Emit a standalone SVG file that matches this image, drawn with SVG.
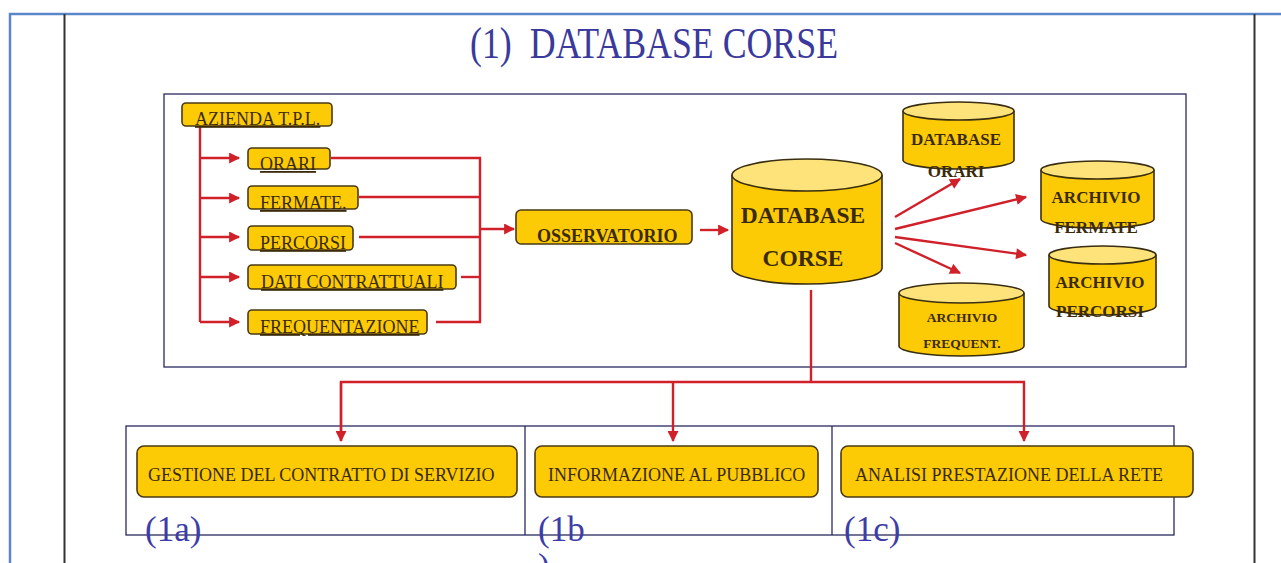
<svg xmlns="http://www.w3.org/2000/svg" width="1281" height="563" viewBox="0 0 1281 563">
<defs>
<marker id="ah" viewBox="0 0 10 10" refX="9" refY="5" markerWidth="12" markerHeight="11" markerUnits="userSpaceOnUse" orient="auto">
<path d="M0,0 L10,5 L0,10 z" fill="#d0202a"/>
</marker>
<style>
.box{fill:#fccb06;stroke:#4a3a14;stroke-width:1.6}
.cyl{fill:#fccb06;stroke:#3a2e10;stroke-width:1.6}
.top{fill:#fde37a;stroke:#3a2e10;stroke-width:1.6}
.t{font-family:"Liberation Serif",serif;fill:#3b2a0a}
.u{font-size:18px;text-decoration:underline}
.b{font-weight:bold}
.c{stroke:#d0202a;stroke-width:2.4;fill:none}
.frame{fill:none;stroke:#2a2a5e;stroke-width:1.3}
.lbl{font-family:"Liberation Serif",serif;font-size:35px;fill:#3d3da8}
.bt{font-size:18px}
</style>
</defs>
<rect width="1281" height="563" fill="#fff"/>
<g id="page">
<path d="M10,563 V14 H1281" fill="none" stroke="#5b87c8" stroke-width="2.5"/>
<line x1="64.5" y1="14" x2="64.5" y2="563" stroke="#333" stroke-width="2"/>
<line x1="1254.5" y1="14" x2="1254.5" y2="563" stroke="#333" stroke-width="2"/>
<text x="470" y="58" textLength="368" lengthAdjust="spacingAndGlyphs" font-family="Liberation Serif,serif" font-size="44" fill="#3a3a9c" xml:space="preserve">(1)  DATABASE CORSE</text>
<rect x="164" y="94" width="1022" height="273" class="frame"/>
<rect x="126" y="426" width="1048" height="109" class="frame"/>
<line x1="525" y1="426" x2="525" y2="535" class="frame"/>
<line x1="832" y1="426" x2="832" y2="535" class="frame"/>
</g>
<g id="connectors">
<path class="c" d="M200,126 V322"/>
<path class="c" d="M200,158 H239" marker-end="url(#ah)"/>
<path class="c" d="M200,198 H239" marker-end="url(#ah)"/>
<path class="c" d="M200,237 H239" marker-end="url(#ah)"/>
<path class="c" d="M200,277 H239" marker-end="url(#ah)"/>
<path class="c" d="M200,322 H239" marker-end="url(#ah)"/>
<path class="c" d="M331,158 H480 V322 H436"/>
<path class="c" d="M359,197 H480"/>
<path class="c" d="M359,237 H480"/>
<path class="c" d="M461,277 H480"/>
<path class="c" d="M480,229 H514" marker-end="url(#ah)"/>
<path class="c" d="M700,230 H728" marker-end="url(#ah)"/>
<path class="c" d="M895,217 L960,179" marker-end="url(#ah)"/>
<path class="c" d="M895,229 L1026,197" marker-end="url(#ah)"/>
<path class="c" d="M895,237 L1026,255" marker-end="url(#ah)"/>
<path class="c" d="M895,243 L960,273" marker-end="url(#ah)"/>
<path class="c" d="M811,290 V382"/>
<path class="c" d="M341,441 V382 H1024 V441" marker-end="url(#ah)"/>
<path class="c" d="M341,382 V441" marker-end="url(#ah)"/>
<path class="c" d="M673,382 V441" marker-end="url(#ah)"/>
</g>
<g id="azienda"><rect class="box" x="182" y="103" width="150" height="23" rx="4"/><text class="t u" x="195" y="125">AZIENDA T.P.L.</text></g>
<g id="orari"><rect class="box" x="248" y="148" width="82" height="21" rx="4"/><text class="t u" x="260" y="170">ORARI</text></g>
<g id="fermate"><rect class="box" x="248" y="186" width="110" height="23" rx="4"/><text class="t u" x="260" y="209">FERMATE.</text></g>
<g id="percorsi"><rect class="box" x="248" y="226" width="105" height="24" rx="4"/><text class="t u" x="260" y="249">PERCORSI</text></g>
<g id="dati"><rect class="box" x="248" y="265" width="208" height="24" rx="4"/><text class="t u" x="261" y="288">DATI CONTRATTUALI</text></g>
<g id="frequentazione"><rect class="box" x="248" y="310" width="179" height="24" rx="4"/><text class="t u" x="260" y="333">FREQUENTAZIONE</text></g>
<g id="osservatorio"><rect class="box" x="516" y="210" width="176" height="34" rx="5"/><text class="t b" x="537" y="242" font-size="18">OSSERVATORIO</text></g>
<g id="dbcorse">
<path class="cyl" d="M732,175 V268 A75,16 0 0 0 882,268 V175"/>
<ellipse class="top" cx="807" cy="175" rx="75" ry="16"/>
<text class="t b" x="803" y="223" font-size="23.5" text-anchor="middle">DATABASE</text>
<text class="t b" x="803" y="266" font-size="23.5" text-anchor="middle">CORSE</text>
</g>
<g id="dborari">
<path class="cyl" d="M903,111 V160 A55.5,9 0 0 0 1014,160 V111"/>
<ellipse class="top" cx="958.5" cy="111" rx="55.5" ry="9"/>
<text class="t b" x="956" y="145" font-size="17" text-anchor="middle">DATABASE</text>
<text class="t b" x="956" y="177" font-size="17" text-anchor="middle">ORARI</text>
</g>
<g id="archfermate">
<path class="cyl" d="M1041,170 V219 A56.5,9 0 0 0 1154,219 V170"/>
<ellipse class="top" cx="1097.5" cy="170" rx="56.5" ry="9"/>
<text class="t b" x="1096" y="203" font-size="17" text-anchor="middle">ARCHIVIO</text>
<text class="t b" x="1096" y="233" font-size="17" text-anchor="middle">FERMATE</text>
</g>
<g id="archpercorsi">
<path class="cyl" d="M1049,255 V306 A53.5,9 0 0 0 1156,306 V255"/>
<ellipse class="top" cx="1102.5" cy="255" rx="53.5" ry="9"/>
<text class="t b" x="1100" y="288" font-size="17" text-anchor="middle">ARCHIVIO</text>
<text class="t b" x="1100" y="317" font-size="17" text-anchor="middle">PERCORSI</text>
</g>
<g id="archfrequent">
<path class="cyl" d="M899,293 V346 A62.5,10 0 0 0 1024,346 V293"/>
<ellipse class="top" cx="961.5" cy="293" rx="62.5" ry="10"/>
<text class="t b" x="962" y="322" font-size="13.5" text-anchor="middle">ARCHIVIO</text>
<text class="t b" x="962" y="348" font-size="13.5" text-anchor="middle">FREQUENT.</text>
</g>
<g id="gestione"><rect class="box" x="137" y="446" width="380" height="51" rx="7"/><text class="t bt" x="148" y="481">GESTIONE DEL CONTRATTO DI SERVIZIO</text><text class="lbl" x="145" y="541">(1a)</text></g>
<g id="informazione"><rect class="box" x="535" y="446" width="283" height="51" rx="7"/><text class="t bt" x="548" y="481">INFORMAZIONE AL PUBBLICO</text><text class="lbl" x="538" y="541">(1b</text><text class="lbl" x="538" y="578">)</text></g>
<g id="analisi"><rect class="box" x="841" y="446" width="352" height="51" rx="7"/><text class="t bt" x="855" y="481">ANALISI PRESTAZIONE DELLA RETE</text><text class="lbl" x="844" y="541">(1c)</text></g>
</svg>
